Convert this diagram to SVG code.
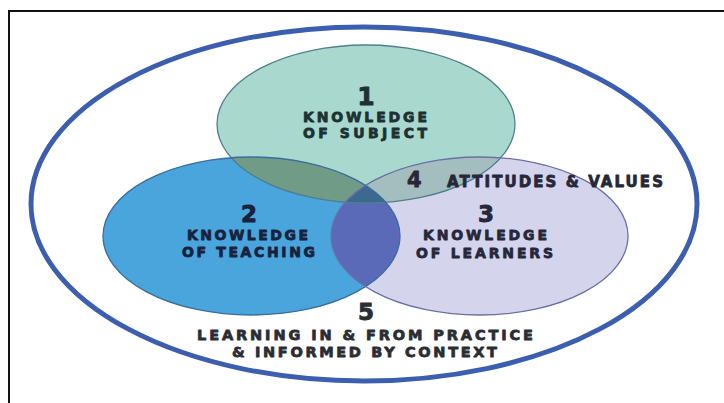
<svg xmlns="http://www.w3.org/2000/svg" width="724" height="403" viewBox="0 0 724 403">
  <defs>
    <style>
      .lbl { font-family: "DejaVu Sans", "Liberation Sans", Arial, sans-serif; font-weight: bold; stroke-width: 0.8; stroke-linejoin: round; }
      .num { font-family: "DejaVu Sans", "Liberation Sans", Arial, sans-serif; font-weight: bold; text-anchor: middle; stroke-width: 0.9; stroke-linejoin: round; }
      .t1 { fill: #1c3232; stroke: #1c3232; }
      .t2 { fill: #17223d; stroke: #17223d; }
      .t3 { fill: #26283a; stroke: #26283a; }
      .t5 { fill: #2a2d33; stroke: #2a2d33; }
      .edge { fill: none; stroke-width: 1.3; }
    </style>
    <clipPath id="c1"><ellipse cx="366" cy="124" rx="149" ry="79"/></clipPath>
    <clipPath id="c2"><ellipse cx="251.5" cy="236" rx="148.5" ry="79"/></clipPath>
  </defs>

  <rect x="0" y="0" width="724" height="403" fill="#ffffff"/>
  <rect x="9" y="11" width="722" height="400" fill="none" stroke="#111111" stroke-width="2"/>

  <g id="outer-context">
    <ellipse cx="364" cy="204" rx="333" ry="177" fill="none" stroke="#3c5eae" stroke-width="5"/>
  </g>

  <g id="node-fills">
    <ellipse cx="366" cy="124" rx="149" ry="79" fill="#a9d8cf"/>
    <ellipse cx="251.5" cy="236" rx="148.5" ry="79" fill="#4aa5dc"/>
    <ellipse cx="479.5" cy="236" rx="148.5" ry="79" fill="#d4d5ed"/>
    <g clip-path="url(#c1)">
      <ellipse cx="251.5" cy="236" rx="148.5" ry="79" fill="#709c87"/>
      <ellipse cx="479.5" cy="236" rx="148.5" ry="79" fill="#a4bdbf"/>
    </g>
    <g clip-path="url(#c2)">
      <ellipse cx="479.5" cy="236" rx="148.5" ry="79" fill="#5b6ab8"/>
    </g>
    <g clip-path="url(#c1)">
      <g clip-path="url(#c2)">
        <ellipse cx="479.5" cy="236" rx="148.5" ry="79" fill="#3c6a8f"/>
      </g>
    </g>
  </g>

  <g id="node-1-subject">
    <ellipse class="edge" cx="366" cy="124" rx="149" ry="79" stroke="#4f7f88"/>
    <text class="num t1" x="366" y="105" font-size="25">1</text>
    <text class="lbl t1" x="303" y="122" font-size="14" textLength="124" lengthAdjust="spacing">KNOWLEDGE</text>
    <text class="lbl t1" x="303" y="138" font-size="14" textLength="124" lengthAdjust="spacing">OF SUBJECT</text>
  </g>

  <g id="node-2-teaching">
    <ellipse class="edge" cx="251.5" cy="236" rx="148.5" ry="79" stroke="#3a6c9c"/>
    <text class="num t2" x="249" y="222" font-size="23">2</text>
    <text class="lbl t2" x="187" y="240" font-size="14" textLength="121" lengthAdjust="spacing">KNOWLEDGE</text>
    <text class="lbl t2" x="182" y="257" font-size="14" textLength="133" lengthAdjust="spacing">OF TEACHING</text>
  </g>

  <g id="node-3-learners">
    <ellipse class="edge" cx="479.5" cy="236" rx="148.5" ry="79" stroke="#6a70a4"/>
    <text class="num t3" x="486" y="222" font-size="23">3</text>
    <text class="lbl t3" x="423" y="240" font-size="14" textLength="124" lengthAdjust="spacing">KNOWLEDGE</text>
    <text class="lbl t3" x="416" y="258" font-size="14" textLength="137" lengthAdjust="spacing">OF LEARNERS</text>
  </g>

  <g id="node-4-attitudes">
    <text class="lbl t3" x="407" y="187" font-size="21">4</text>
    <text class="lbl t3" x="447" y="187" font-size="15" textLength="216" lengthAdjust="spacing">ATTITUDES &amp; VALUES</text>
  </g>

  <g id="node-5-practice">
    <text class="num t5" x="366" y="320" font-size="23">5</text>
    <text class="lbl t5" x="197" y="340" font-size="14.5" textLength="336" lengthAdjust="spacing">LEARNING IN &amp; FROM PRACTICE</text>
    <text class="lbl t5" x="232" y="357" font-size="14.5" textLength="265" lengthAdjust="spacing">&amp; INFORMED BY CONTEXT</text>
  </g>

  <g id="connectors"/>
</svg>
